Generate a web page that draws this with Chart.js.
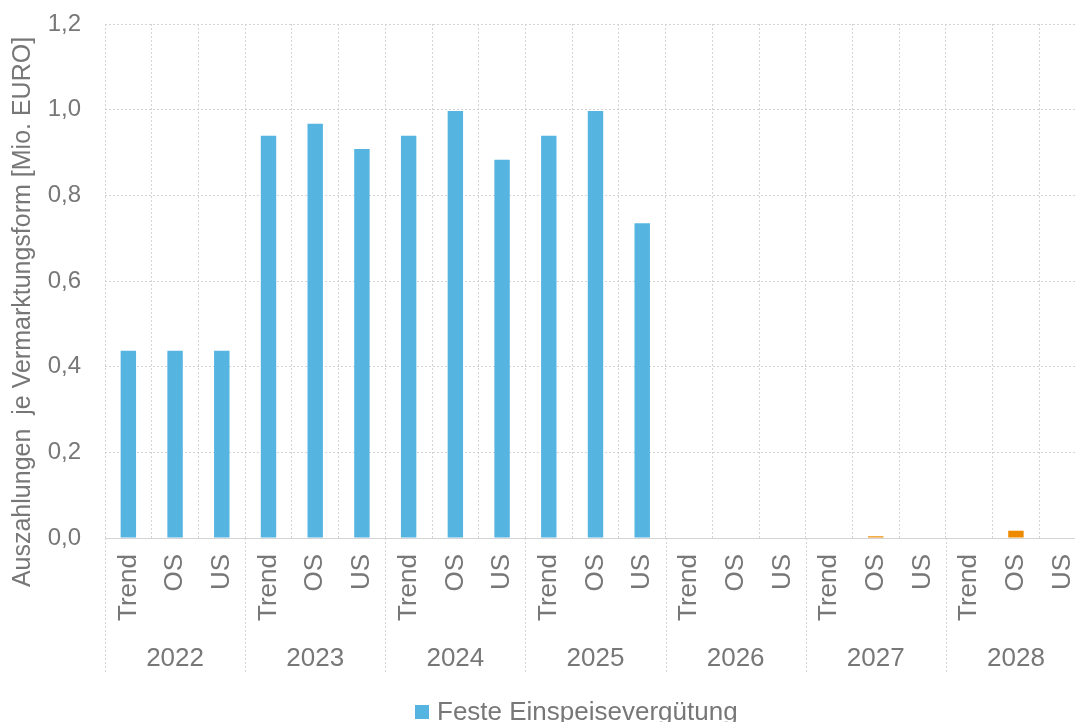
<!DOCTYPE html>
<html lang="de">
<head>
<meta charset="utf-8">
<title>Auszahlungen je Vermarktungsform</title>
<script src="https://cdn.jsdelivr.net/npm/chart.js@4.4.1/dist/chart.umd.min.js"></script>
<style>
  html, body { margin: 0; padding: 0; background: #fff; overflow: hidden; }
  #wrap { position: absolute; left: 0; top: 0; width: 1086px; height: 722px; }
  #legende {
    position: absolute; left: 415px; top: 696px;
    font-family: "Liberation Sans", Arial, sans-serif; font-size: 26px; color: #777;
    white-space: nowrap; line-height: 30px;
  }
  #legende span.box {
    display: inline-block; width: 14px; height: 14px; background: #56b4e0;
    margin-right: 8px; vertical-align: 1px;
  }
</style>
</head>
<body>
<div id="wrap"><canvas id="chart"></canvas></div>
<div id="legende"><span class="box"></span>Feste Einspeisevergütung</div>
<script>
// Jahre und Szenarien
const jahre = ['2022', '2023', '2024', '2025', '2026', '2027', '2028'];
const szenarien = ['Trend', 'OS', 'US'];

// Auszahlungen in Mio. EURO, je Jahr: Trend, OS, US
const festeEinspeisung = [
  0.437, 0.437, 0.437,
  0.939, 0.967, 0.908,
  0.939, 0.997, 0.883,
  0.939, 0.997, 0.735,
  0, 0, 0,
  0, 0, 0,
  0, 0, 0
];
const marktpraemie = [
  0, 0, 0,
  0, 0, 0,
  0, 0, 0,
  0, 0, 0,
  0, 0, 0,
  0, 0.004, 0,
  0, 0.017, 0
];

const yTicks = [0, 0.2, 0.4, 0.6, 0.8, 1.0, 1.2];
const yTitel = 'Auszahlungen  je Vermarktungsform [Mio. EURO]';

const grau = '#777777';
const gitter = '#d4d4d4';
const schrift = '"Liberation Sans", Arial, sans-serif';

// Kategorien: jedes Jahr mit drei Szenarien
const kategorien = [];
jahre.forEach(() => szenarien.forEach(s => kategorien.push(s)));

// Trennlinien zwischen den Jahren unterhalb der Achse
const jahresTrenner = {
  id: 'jahresTrenner',
  afterDraw(chart) {
    const x = chart.scales.x;
    const x2 = chart.scales.x2;
    const breite = x.getPixelForValue(1) - x.getPixelForValue(0);
    const ctx = chart.ctx;
    ctx.save();
    ctx.strokeStyle = gitter;
    ctx.lineWidth = 1;
    ctx.setLineDash([2, 2]);
    for (let g = 0; g <= jahre.length; g++) {
      const px = Math.round(x.getPixelForValue(g * 3) - breite / 2) + 0.5;
      ctx.beginPath();
      ctx.moveTo(px, chart.chartArea.bottom);
      ctx.lineTo(px, x2.bottom);
      ctx.stroke();
    }
    ctx.restore();
  }
};

// Achsentitel links, etwas unter der Mitte der Zeichenfläche
const achsenTitel = {
  id: 'achsenTitel',
  afterDraw(chart) {
    const ctx = chart.ctx;
    const mitte = (chart.chartArea.top + chart.scales.x.bottom) / 2 - 19;
    ctx.save();
    ctx.translate(23, mitte);
    ctx.rotate(-Math.PI / 2);
    ctx.fillStyle = grau;
    ctx.font = '25px ' + schrift;
    ctx.textAlign = 'center';
    ctx.textBaseline = 'middle';
    ctx.fillText(yTitel, 0, 0);
    ctx.restore();
  }
};

// Kein zusätzlicher Rand um die Zeichenfläche durch Beschriftungen
function ohneRand(scale) {
  scale.paddingTop = 0;
  scale.paddingBottom = 0;
  scale.paddingLeft = 0;
  scale.paddingRight = 0;
}

new Chart(document.getElementById('chart'), {
  type: 'bar',
  data: {
    labels: kategorien,
    datasets: [
      {
        label: 'Feste Einspeisevergütung',
        data: festeEinspeisung,
        backgroundColor: '#56b4e0',
        barPercentage: 0.33,
        categoryPercentage: 1
      },
      {
        label: 'Marktprämie',
        data: marktpraemie,
        backgroundColor: '#ee8a00',
        barPercentage: 0.33,
        categoryPercentage: 1
      }
    ]
  },
  options: {
    responsive: true,
    maintainAspectRatio: false,
    animation: false,
    layout: { padding: { top: 24, right: 0, bottom: 50, left: 0 } },
    plugins: {
      legend: { display: false },
      tooltip: { enabled: false }
    },
    scales: {
      x: {
        stacked: true,
        grid: { color: gitter, offset: true, drawTicks: false },
        border: { display: true, color: gitter, dash: [2, 2] },
        ticks: {
          color: grau,
          font: { family: schrift, size: 26 },
          minRotation: 90,
          maxRotation: 90,
          autoSkip: false,
          padding: 16
        },
        afterFit(scale) { scale.height = 100; ohneRand(scale); }
      },
      x2: {
        type: 'category',
        position: 'bottom',
        labels: jahre,
        offset: true,
        grid: { display: false },
        border: { display: false },
        ticks: {
          color: grau,
          font: { family: schrift, size: 26 },
          maxRotation: 0,
          autoSkip: false,
          padding: -3
        },
        afterFit(scale) { scale.height = 34; ohneRand(scale); }
      },
      y: {
        stacked: true,
        min: 0,
        max: 1.2,
        afterBuildTicks(scale) {
          scale.ticks = yTicks.map(v => ({ value: v }));
        },
        grid: { color: gitter, drawTicks: false },
        border: { display: false, dash: [2, 2] },
        ticks: {
          color: grau,
          font: { family: schrift, size: 24 },
          padding: 24,
          callback: v => v.toFixed(1).replace('.', ',')
        },
        afterFit(scale) { scale.width = 105; ohneRand(scale); }
      }
    }
  },
  plugins: [jahresTrenner, achsenTitel]
});
</script>
</body>
</html>
